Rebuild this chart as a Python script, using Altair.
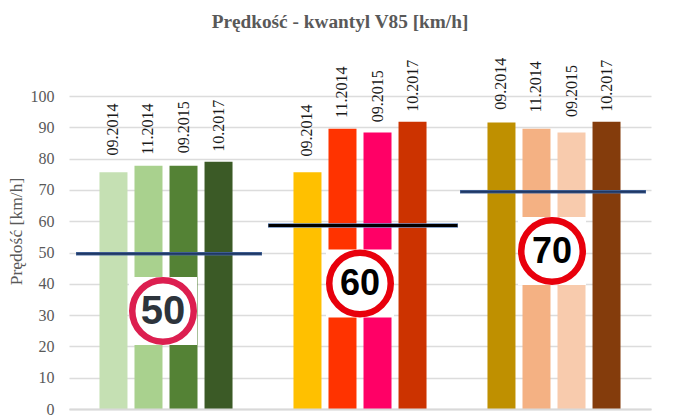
import altair as alt
import pandas as pd

groups = ["50", "60", "70"]
dates = ["09.2014", "11.2014", "09.2015", "10.2017"]
v85_50 = [75.6, 77.7, 77.7, 79.0]
v85_60 = [75.6, 89.5, 88.3, 91.8]
v85_70 = [91.5, 89.5, 88.3, 91.8]
label_at_50 = [81.0, 81.2, 81.7, 82.2]
label_at_60 = [80.7, 93.0, 91.6, 95.0]
label_at_70 = [95.6, 94.7, 93.3, 95.0]
colors_50 = ["#c5e0b3", "#a9d18e", "#548235", "#3b5a26"]
colors_60 = ["#ffc000", "#ff3300", "#ff0066", "#cc3300"]
colors_70 = ["#bf9000", "#f4b183", "#f8cbad", "#843c0c"]
limits = [49.6, 58.6, 69.4]
sign_at = [31.3, 40.1, 50.5]
y_title = "Prędość [km/h]"
y_ticks = [0, 10, 20, 30, 40, 50, 60, 70, 80, 90, 100]

rows = []
for g, vals, labs in zip(groups, [v85_50, v85_60, v85_70], [label_at_50, label_at_60, label_at_70]):
    for d, v, l in zip(dates, vals, labs):
        rows.append({"group": g, "date": d, "key": g + d, "v85": v, "label_at": l})
df = pd.DataFrame(rows)

GREY = "#595959"
FONT = "Liberation Serif"

x_scale = alt.Scale(domain=groups, paddingInner=0, paddingOuter=0)
x = alt.X("group:N", scale=x_scale, title=None,
          axis=alt.Axis(labels=False, ticks=False, grid=False, domain=True, domainColor="#d9d9d9",
                        domainWidth=2, zindex=1))
x_off = alt.XOffset("date:N", sort=dates, scale=alt.Scale(paddingInner=0.2, paddingOuter=0.87))

y_scale = alt.Scale(domain=[0, 100], nice=False)
y_axis = alt.Axis(values=y_ticks, ticks=False, domain=False, labelOverlap=False,
                  gridColor="#dcdcdc", gridWidth=1.5,
                  labelFont=FONT, labelFontSize=16, labelColor=GREY, labelPadding=15,
                  titleFont=FONT, titleFontSize=17.5, titleColor=GREY, titleFontWeight="normal",
                  titleX=-44, titleY=135)


def y_enc(field):
    return alt.Y(field, scale=y_scale, title=y_title, axis=y_axis)


bars = alt.Chart(df).mark_bar(size=28).encode(
    x=x,
    xOffset=x_off,
    y=y_enc("v85:Q"),
    color=alt.Color("key:N", legend=None,
                    scale=alt.Scale(domain=list(df["key"]), range=colors_50 + colors_60 + colors_70)),
)

labels = alt.Chart(df).mark_text(font=FONT, fontSize=16, color="#1a1a1a", angle=270, align="left",
                                 baseline="middle").encode(
    x=x,
    xOffset=x_off,
    y=y_enc("label_at:Q"),
    text="date:N",
)

style = {
    "50": dict(dx=94, ring="#dc1f50", ink="#2d343c", font=40, line_dx=100, line_w=186,
               under="#4a6aa0", over="#1f3864", t=3.5, core=2),
    "60": dict(dx=97, ring="#e8000c", ink="#000000", font=36, line_dx=100, line_w=190,
               under="#6a8cc0", over="#000000", t=4.5, core=3),
    "70": dict(dx=95, ring="#e8000c", ink="#000000", font=36, line_dx=96, line_w=186,
               under="#4a6aa0", over="#1f3864", t=3.5, core=2),
}

layers = [bars, labels]
for g, val, lim in zip(groups, sign_at, limits):
    s = style[g]
    sd = pd.DataFrame({"group": [g], "sign": [val], "limit": [lim]})
    enc = dict(x=x, xOffset=alt.value(s["dx"]), y=y_enc("sign:Q"))
    base = alt.Chart(sd)
    layers += [
        base.mark_point(shape="square", size=68 * 68, filled=True, color="white", opacity=1).encode(**enc),
        base.mark_point(shape="circle", size=61.5 * 61.5, fill="white", fillOpacity=1, stroke=s["ring"],
                        strokeWidth=6.5, opacity=1).encode(**enc),
        base.mark_text(font="Liberation Sans", fontWeight="bold", fontSize=s["font"], color=s["ink"],
                       align="center", baseline="middle", dy=1).encode(text="group:N", **enc),
    ]
    line_enc = dict(x=x, xOffset=alt.value(s["line_dx"]), y=y_enc("limit:Q"))
    layers += [
        base.mark_tick(size=s["line_w"], thickness=s["t"], color=s["under"], opacity=1, orient="horizontal").encode(**line_enc),
        base.mark_tick(size=s["line_w"] - 1, thickness=s["core"], color=s["over"], opacity=1, orient="horizontal").encode(**line_enc),
    ]

chart = alt.layer(*layers).resolve_scale(color="independent").properties(
    width=582,
    height=313,
    autosize=alt.AutoSizeParams(type="none"),
    padding={"left": 61, "top": 88, "right": 21, "bottom": 8},
    background="white",
    title=alt.TitleParams("Prędkość - kwantyl V85 [km/h]", font=FONT, fontSize=19.3, fontWeight="bold",
                          color=GREY, anchor="middle", dx=-20, offset=25),
).configure_view(stroke=None)

chart.save("out.html", embed_options={"renderer": "svg", "actions": False})
